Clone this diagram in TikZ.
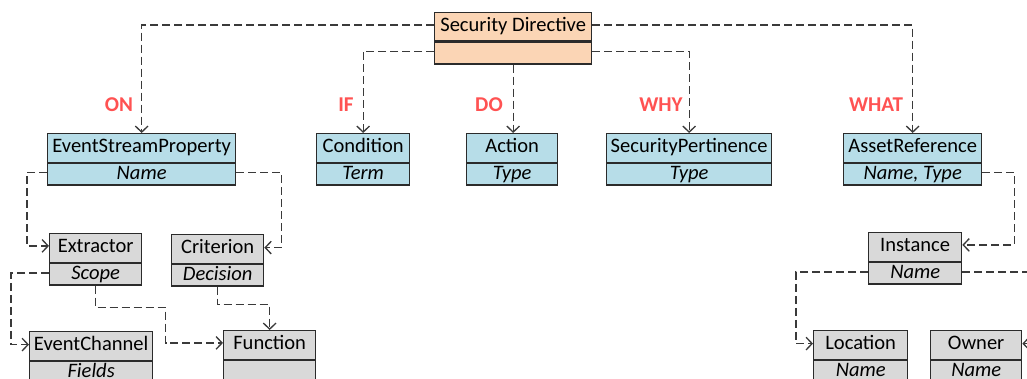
\documentclass[tikz,border=0pt]{standalone}
\usepackage{fontspec}
\setmainfont{Carlito}
\usetikzlibrary{arrows.meta}

\definecolor{peach}{HTML}{FBD5B5}
\definecolor{paleblue}{HTML}{B7DDE8}
\definecolor{palegray}{HTML}{D9D9D9}
\definecolor{edge}{HTML}{2B2B2B}
\definecolor{wire}{HTML}{3A3A3A}
\definecolor{tag}{HTML}{FF5252}

\tikzset{
  hdr/.style={draw=edge, line width=1pt, inner sep=0pt,
    minimum height=28.5*0.75pt, text height=10.6pt, text depth=3pt,
    font=\fontsize{15.4}{18}\selectfont},
  attrrow/.style={draw=edge, line width=1pt, inner sep=0pt,
    minimum height=21.5*0.75pt, text height=10.6pt, text depth=3pt,
    font=\fontsize{15.4}{18}\selectfont\itshape},
  dep/.style={draw=wire, line width=1pt, dash pattern=on 6pt off 3pt,
    -{Straight Barb[length=4.5pt,width=9.5pt]}},
  link/.style={draw=wire, line width=1pt, dash pattern=on 6pt off 3pt},
  role/.style={text=tag, font=\fontsize{15.8}{18}\selectfont\bfseries, inner sep=0pt},
  peachbox/.style={fill=peach},
  bluebox/.style={fill=paleblue},
  graybox/.style={fill=palegray},
}

% class box: name, fill style, left, top, width (px), title, attribute
\newcommand\umlclass[7]{%
  \node[hdr,#2,minimum width=#5*0.75pt,anchor=north west] (#1) at (#3,#4) {#6};
  \node[attrrow,#2,minimum width=#5*0.75pt,anchor=north] (#1-a) at (#1.south) {#7};
}

\begin{document}
\begin{tikzpicture}[x=0.75pt,y=-0.75pt]
\useasboundingbox (0,0) rectangle (1027,378);
\clip (0,0) rectangle (1027,378);

% classes
\umlclass{sd}{peachbox}{434}{12}{157}{Security Directive}{}
\umlclass{esp}{bluebox}{47}{133}{188}{EventStreamProperty}{Name}
\umlclass{cond}{bluebox}{316}{133}{93}{Condition}{Term}
\umlclass{act}{bluebox}{466}{133}{91}{Action}{Type}
\umlclass{sp}{bluebox}{606}{133}{165}{SecurityPertinence}{Type}
\umlclass{ar}{bluebox}{843}{133}{138}{AssetReference}{Name, Type}
\umlclass{ext}{graybox}{49}{233}{92}{Extractor}{Scope}
\umlclass{crit}{graybox}{171}{234}{92}{Criterion}{Decision}
\umlclass{inst}{graybox}{868}{232}{93}{Instance}{Name}
\umlclass{ec}{graybox}{29}{331}{123}{EventChannel}{Fields}
\umlclass{fun}{graybox}{223}{330}{92}{Function}{}
\umlclass{loc}{graybox}{813}{330}{94}{Location}{Name}
\umlclass{own}{graybox}{930}{330}{91}{Owner}{Name}

% role labels
\node[role] (on)   at (119,105) {ON};
\node[role] (if)   at (346,105) {IF};
\node[role] (do)   at (489,105) {DO};
\node[role] (why)  at (661,105) {WHY};
\node[role] (what) at (876,105) {WHAT};

% directive to its parts
\draw[dep] ([yshift=1.5pt]sd.west) -| (esp.north);
\draw[dep] ([yshift=1.5pt]sd-a.west) -| (cond.north);
\draw[dep] (sd-a.south) -- (sd-a.south |- act.north);
\draw[dep] ([yshift=1.5pt]sd-a.east) -| (sp.north);
\draw[dep] ([yshift=1.5pt]sd.east) -| (ar.north);

% event stream property
\draw[dep] ([yshift=1.5pt]esp-a.west) -- ++(-20,0) |- ([yshift=1.5pt]ext.west);
\draw[dep] ([yshift=1.5pt]esp-a.east) -- ++(45,0) |- ([yshift=1pt]crit.east);

% extractor and criterion
\draw[dep] ([yshift=1pt]ext-a.west) -- ++(-38,0) |- ([yshift=1pt]ec.west);
\draw[dep] (ext-a.south) -- ++(0,22) -- ++(70,0) |- ([yshift=1.5pt]fun.west);
\draw[dep] (crit-a.south) -- ++(0,18) -| (fun.north);

% asset reference and instance
\draw[dep] ([yshift=1.5pt]ar-a.east) -- ++(32,0) |- ([yshift=1.5pt]inst.east);
\draw[dep] ([yshift=1pt]inst-a.west) -- ++(-72,0) |- ([yshift=1pt]loc.west);
\draw[link] ([yshift=1pt]inst-a.east) -- ++(80,0);
\draw[dep] ([yshift=1pt]own.east) ++(20,0) -- ([yshift=1pt]own.east);
\end{tikzpicture}
\end{document}
